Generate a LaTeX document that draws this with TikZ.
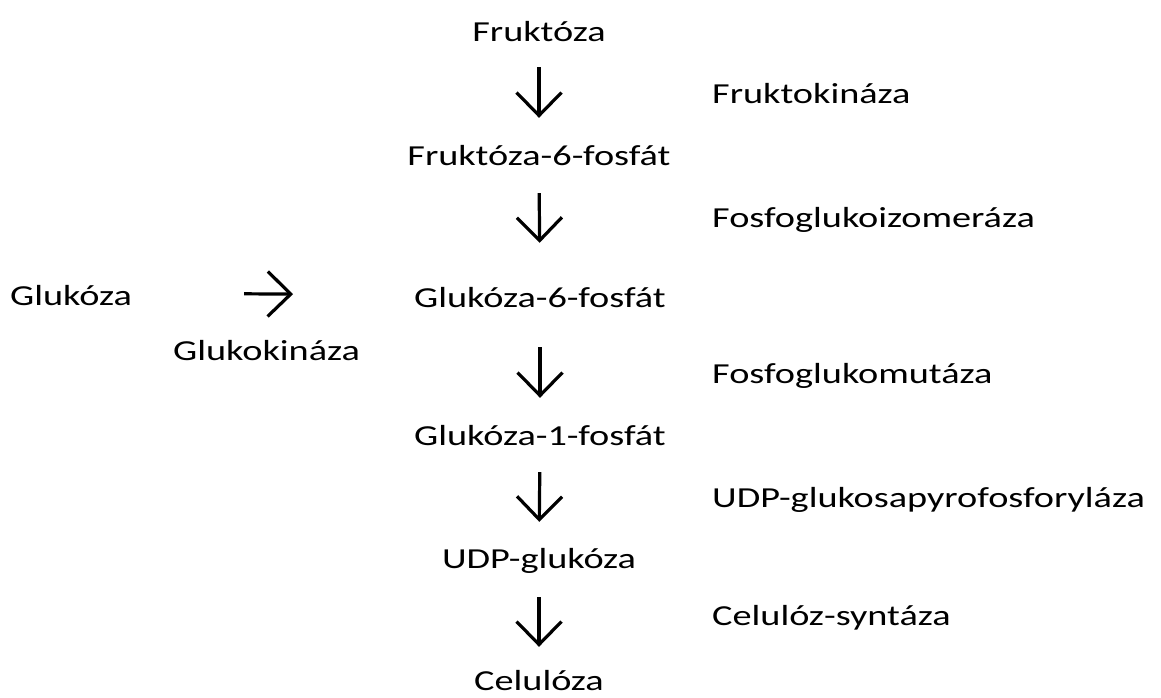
\documentclass[tikz,border=0pt]{standalone}
\usepackage{fontspec}
\setmainfont{Carlito}[FakeStretch=1.32]
\usetikzlibrary{arrows.meta}
\tikzset{
  lbl/.style={inner sep=0pt, text height=20pt, text depth=6pt, font=\fontsize{29}{34}\selectfont},
  mid/.style={lbl, anchor=base},
  side/.style={lbl, anchor=base west},
  rxn/.style={line width=3.2pt, -{Straight Barb[length=23pt,width=45pt,line width=3.2pt]}}
}
\begin{document}
\begin{tikzpicture}[x=1pt,y=-1pt]
\useasboundingbox (0,0) rectangle (1161,698);
\node[mid] (fru) at (539,42) {Fruktóza};
\node[mid] (f6p) at (539,165) {Fruktóza-6-fosfát};
\node[mid] (g6p) at (540,307) {Glukóza-6-fosfát};
\node[mid] (g1p) at (540,445) {Glukóza-1-fosfát};
\node[mid] (udp) at (539,568) {UDP-glukóza};
\node[mid] (cel) at (539,690) {Celulóza};
\node[side] (glu) at (10,305) {Glukóza};
\node[side] (gk) at (173,360) {Glukokináza};
\node[side] (fk) at (712,103) {Fruktokináza};
\node[side] (pgi) at (712,227) {Fosfoglukoizomeráza};
\node[side] (pgm) at (712,383) {Fosfoglukomutáza};
\node[side] (ugp) at (712,507) {UDP-glukosapyrofosforyláza};
\node[side] (cs) at (712,625) {Celulóz-syntáza};
\draw[rxn, shorten <=19pt, shorten >=27pt] (fru.south) -- (f6p.north);
\draw[rxn, shorten <=22pt, shorten >=44pt] (f6p.south) -- (g6p.north);
\draw[rxn, shorten <=34pt, shorten >=27pt] (g6p.south) -- (g1p.north);
\draw[rxn, shorten <=21pt, shorten >=26pt] (g1p.south) -- (udp.north);
\draw[rxn, shorten <=23pt, shorten >=23pt] (udp.south) -- (cel.north);
\draw[rxn, shorten <=112pt, shorten >=121pt] ([yshift=5pt]glu.east) -- ([yshift=5pt]g6p.west);
\end{tikzpicture}
\end{document}
